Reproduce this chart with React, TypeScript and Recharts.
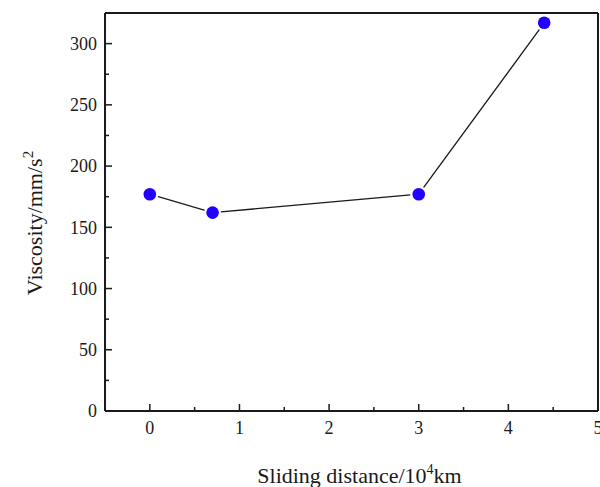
import { LineChart, Line, XAxis, YAxis } from 'recharts'

const distance = [0, 0.7, 3, 4.4]
const viscosity = [177, 162, 177, 317]

const xTicks = [0, 1, 2, 3, 4, 5]
const xMinorTicks = [0.5, 1.5, 2.5, 3.5, 4.5]
const yTicks = [0, 50, 100, 150, 200, 250, 300]
const yMinorTicks = [25, 75, 125, 175, 225, 275]

const data = distance.map((d, i) => ({ distance: d, viscosity: viscosity[i] }))
const xAllTicks = [...xTicks, ...xMinorTicks].sort((a, b) => a - b)
const yAllTicks = [...yTicks, ...yMinorTicks].sort((a, b) => a - b)

const font = '"Liberation Serif", "Times New Roman", serif'
const ink = '#1a1a1a'
// axes need a size above zero to be drawn at all
const thin = 0.01
const xDomain = [-0.5, 5]
const yDomain = [0, 325]
const X_GAP = 10
const Y_GAP = 8

const Dot = (props: any) => {
  const { cx, cy } = props
  if (cx == null || cy == null) return null
  return (
    <g>
      <circle cx={cx} cy={cy} r={8.5} fill="#fff" />
      <circle cx={cx} cy={cy} r={6.3} fill="#2200ff" />
    </g>
  )
}

// tick marks point into the plot; minor ticks are shorter and have no label
const XTick = ({ x, y, payload }: any) => {
  const major = xTicks.includes(payload.value)
  const base = y - X_GAP
  return (
    <g>
      <line x1={x} x2={x} y1={base} y2={base - (major ? 7 : 4)} stroke={ink} strokeWidth={1.5} />
      {major && (
        <text x={x} y={y} dy="0.71em" textAnchor="middle" fontFamily={font} fontSize={18} fill={ink}>{payload.value}</text>
      )}
    </g>
  )
}

const YTick = ({ x, y, payload }: any) => {
  const major = yTicks.includes(payload.value)
  const base = x + Y_GAP
  return (
    <g>
      <line x1={base} x2={base + (major ? 7 : 4)} y1={y} y2={y} stroke={ink} strokeWidth={1.5} />
      {major && (
        <text x={x} y={y} dy="0.35em" textAnchor="end" fontFamily={font} fontSize={18} fill={ink}>{payload.value}</text>
      )}
    </g>
  )
}

const Blank = () => <g />

const XTitle = ({ viewBox }: any) => (
  <text x={viewBox.x + viewBox.width / 2 + 8} y={viewBox.y + 72} textAnchor="middle" fontFamily={font} fontSize={22} fill={ink}>
    Sliding distance/10
    <tspan dy={-9} fontSize={14}>4</tspan>
    <tspan dy={9}>km</tspan>
  </text>
)

const YTitle = ({ viewBox }: any) => {
  const x = viewBox.x - 63
  const y = viewBox.y + viewBox.height / 2 + 11
  return (
    <text x={x} y={y} transform={`rotate(-90, ${x}, ${y})`} textAnchor="middle" fontFamily={font} fontSize={22} fill={ink}>
      Viscosity/mm/s
      <tspan dy={-9} fontSize={15}>2</tspan>
    </text>
  )
}

export default function App() {
  return (
    <div style={{ width: 600, height: 487, background: '#fff', fontFamily: font }}>
      <style>{`body{margin:0}`}</style>
      <LineChart width={600} height={487} data={data} margin={{ top: 13, right: 2, bottom: 76, left: 105 }}>
        <XAxis type="number" dataKey="distance" domain={xDomain} ticks={xAllTicks} interval={0}
          height={thin} tickSize={0} tickMargin={X_GAP} tick={<XTick />} tickLine={false}
          axisLine={{ stroke: ink, strokeWidth: 2 }} label={<XTitle />} allowDataOverflow />
        <XAxis xAxisId="top" orientation="top" type="number" domain={xDomain} height={thin}
          tick={<Blank />} tickLine={false} axisLine={{ stroke: ink, strokeWidth: 2 }} allowDataOverflow />
        <YAxis type="number" domain={yDomain} ticks={yAllTicks} interval={0}
          width={thin} tickSize={0} tickMargin={Y_GAP} tick={<YTick />} tickLine={false}
          axisLine={{ stroke: ink, strokeWidth: 2 }} label={<YTitle />} allowDataOverflow />
        <YAxis yAxisId="right" orientation="right" type="number" domain={yDomain} width={thin}
          tick={<Blank />} tickLine={false} axisLine={{ stroke: ink, strokeWidth: 2 }} allowDataOverflow />
        <Line type="linear" dataKey="viscosity" stroke={ink} strokeWidth={1.3} dot={<Dot />} activeDot={false} isAnimationActive={false} />
      </LineChart>
    </div>
  )
}
